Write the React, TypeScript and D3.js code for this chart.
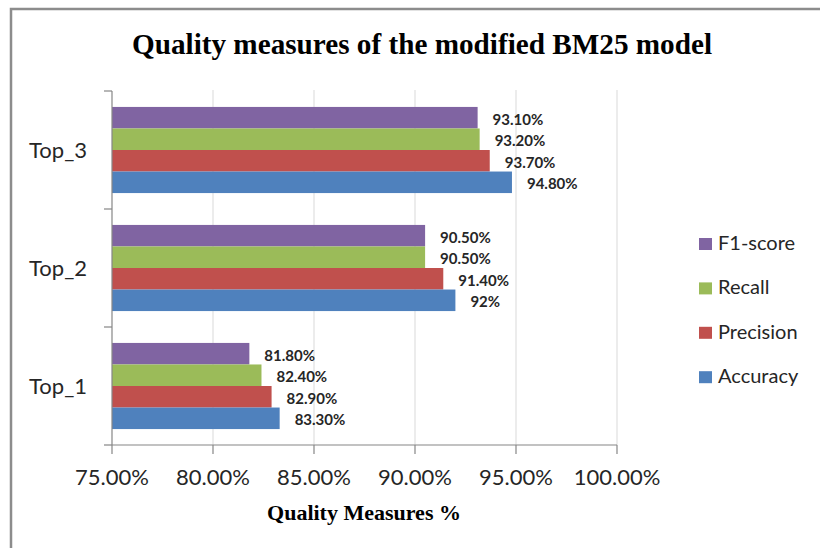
import React from "react";
import { scaleLinear, scaleBand } from "d3";

const categories = ["Top_3", "Top_2", "Top_1"];
const seriesNames = ["F1-score", "Recall", "Precision", "Accuracy"];
const colors = ["#8064A2", "#9BBB59", "#C0504D", "#4F81BD"];

// values per category, order Top_3, Top_2, Top_1
const f1Score = [93.1, 90.5, 81.8];
const recall = [93.2, 90.5, 82.4];
const precision = [93.7, 91.4, 82.9];
const accuracy = [94.8, 92, 83.3];
const seriesValues = [f1Score, recall, precision, accuracy];

const xTicks = [75, 80, 85, 90, 95, 100];

const W = 820;
const H = 548;
const left = 112;
const right = 617;
const top = 91;
const bottom = 445;

const fmtLabel = (v: number) =>
  Number.isInteger(v) ? `${v}%` : `${v.toFixed(2)}%`;

export default function App() {
  const x = scaleLinear().domain([75, 100]).range([left, right]);
  const y = scaleBand().domain(categories).range([top, bottom]).padding(0);
  const inner = scaleBand()
    .domain(seriesNames)
    .range([0, y.bandwidth()])
    .paddingInner(0)
    .paddingOuter(0.74);

  const sans = "Lato, 'Open Sans', sans-serif";
  const serif = "'Liberation Serif', 'Times New Roman', serif";

  return (
    <svg
      width={W}
      height={H}
      style={{ position: "absolute", left: 0, top: 0, background: "#fff" }}
    >
      {/* chart border, runs off the right and bottom edges */}
      <rect x={11} y={9} width={840} height={580} fill="#fff" stroke="#8c8c8c" strokeWidth={2.5} />

      <text
        x={422}
        y={54}
        textAnchor="middle"
        fontFamily={serif}
        fontWeight="bold"
        fontSize={28.5}
        textLength={580}
        lengthAdjust="spacingAndGlyphs"
        fill="#000"
      >
        Quality measures of the modified BM25 model
      </text>

      {/* gridlines */}
      {xTicks.slice(1).map((t) => (
        <line key={t} x1={x(t)} x2={x(t)} y1={top - 1} y2={bottom} stroke="#d9d9d9" strokeWidth={1} />
      ))}

      {/* bars */}
      {categories.map((c, ci) =>
        seriesNames.map((s, si) => {
          const v = seriesValues[si][ci];
          const by = (y(c) as number) + (inner(s) as number);
          return (
            <g key={c + s}>
              <rect
                x={x(75)}
                y={by}
                width={x(v) - x(75)}
                height={inner.bandwidth()}
                fill={colors[si]}
              />
              <text
                x={x(v) + 15}
                y={by + inner.bandwidth() / 2 + 7}
                fontFamily={sans}
                fontWeight="bold"
                fontSize={15}
                fill="#262626"
              >
                {fmtLabel(v)}
              </text>
            </g>
          );
        })
      )}

      {/* y axis */}
      <line x1={left} x2={left} y1={top} y2={bottom} stroke="#868686" strokeWidth={1.2} />
      {[0, 1, 2, 3].map((i) => {
        const yy = top + i * y.step();
        return <line key={i} x1={left - 8} x2={left} y1={yy} y2={yy} stroke="#868686" strokeWidth={1.2} />;
      })}
      {categories.map((c) => (
        <text
          key={c}
          x={87}
          y={(y(c) as number) + y.bandwidth() / 2 + 8}
          textAnchor="end"
          fontFamily={sans}
          fontSize={22}
          fill="#262626"
        >
          {c}
        </text>
      ))}

      {/* x axis */}
      <line x1={left} x2={right} y1={bottom} y2={bottom} stroke="#868686" strokeWidth={1.2} />
      {xTicks.map((t) => (
        <g key={t}>
          <line x1={x(t)} x2={x(t)} y1={bottom} y2={bottom + 9} stroke="#868686" strokeWidth={1.2} />
          <text
            x={x(t)}
            y={485}
            textAnchor="middle"
            fontFamily={sans}
            fontSize={22}
            fill="#262626"
          >
            {`${t.toFixed(2)}%`}
          </text>
        </g>
      ))}
      <text
        x={364}
        y={520}
        textAnchor="middle"
        fontFamily={serif}
        fontWeight="bold"
        fontSize={22}
        fill="#000"
      >
        Quality Measures %
      </text>

      {/* legend */}
      {seriesNames.map((s, i) => {
        const base = 250 + i * 44.4;
        return (
          <g key={s}>
            <rect x={699} y={base - 12} width={13} height={12} fill={colors[i]} />
            <text x={718} y={base} fontFamily={sans} fontSize={20} fill="#262626">
              {s}
            </text>
          </g>
        );
      })}
    </svg>
  );
}
